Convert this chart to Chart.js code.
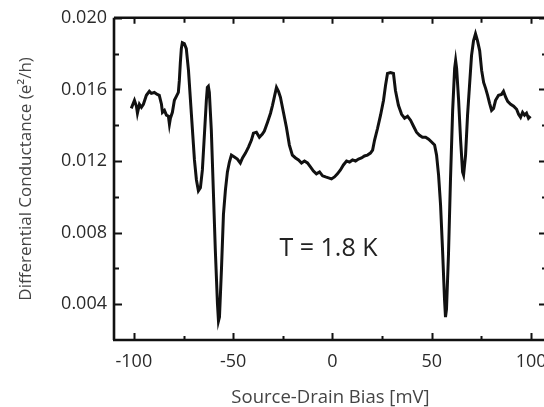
<!DOCTYPE html>
<html>
<head>
<meta charset="utf-8">
<script src="https://cdn.jsdelivr.net/npm/chart.js@4"></script>
<style>
  html, body { margin: 0; padding: 0; background: #fff; overflow: hidden; }
  #wrap { width: 560px; height: 407px; }
</style>
</head>
<body>
<div id="wrap"><canvas id="chart" width="560" height="407"></canvas></div>
<script>
// source-drain bias (mV)
const biasMv = [
  -101.3, -99.7, -98.7, -98.2, -97.2, -96.2, -95.2, -93.7, -92.2, -91.2,
  -89.7, -88.2, -87.2, -86.1, -85.6, -84.6, -83.6, -82.6, -82.1, -81.6,
  -80.6, -79.6, -78.6, -77.6, -77.1, -76.6, -76.1, -75.6, -74.6, -73.6,
  -72.5, -71.5, -70.5, -69.5, -68.5, -67.5, -66.5, -65.5, -64.5, -63.5,
  -63.0, -62.5, -62.0, -61.0, -60.0, -59.0, -57.9, -57.4, -56.9, -55.9,
  -54.9, -53.9, -52.9, -51.9, -50.9, -49.4, -47.9, -46.4, -45.3, -43.8,
  -42.3, -40.8, -39.8, -38.3, -36.8, -35.3, -34.3, -32.7, -31.2, -30.2,
  -29.2, -28.2, -27.2, -26.2, -24.7, -23.2, -21.7, -20.2, -18.6, -17.1,
  -15.6, -14.1, -12.6, -11.1, -9.6, -8.1, -6.5, -5.0, -3.5, -2.0,
  -0.5, 1.0, 2.5, 4.0, 5.5, 7.1, 8.6, 10.1, 11.6, 13.1,
  14.6, 16.1, 17.6, 19.1, 20.2, 21.2, 22.7, 24.2, 25.7, 26.7,
  27.7, 29.2, 30.7, 31.7, 33.2, 34.8, 36.3, 37.8, 39.3, 40.8,
  42.3, 43.8, 45.3, 46.9, 48.4, 49.9, 51.4, 52.4, 53.4, 54.4,
  55.4, 56.4, 56.9, 57.4, 58.4, 59.4, 60.5, 61.5, 62.0, 62.5,
  63.5, 64.5, 65.5, 66.0, 67.0, 68.0, 69.0, 70.0, 71.0, 72.0,
  73.0, 74.1, 75.1, 76.1, 77.1, 78.1, 79.1, 80.1, 81.1, 82.1,
  83.6, 85.1, 86.1, 87.2, 88.2, 89.7, 91.2, 92.7, 93.7, 94.7,
  95.7, 96.7, 97.7, 98.7, 99.7
];

// differential conductance (e^2/h)
const conductance = [
  0.01494, 0.01539, 0.01506, 0.01467, 0.01517, 0.01500, 0.01517, 0.01567, 0.01589, 0.01578,
  0.01583, 0.01572, 0.01567, 0.01517, 0.01472, 0.01483, 0.01456, 0.01450, 0.01406, 0.01439,
  0.01472, 0.01539, 0.01561, 0.01583, 0.01650, 0.01750, 0.01828, 0.01861, 0.01856, 0.01828,
  0.01706, 0.01539, 0.01372, 0.01206, 0.01094, 0.01033, 0.01050, 0.01150, 0.01344, 0.01539,
  0.01611, 0.01617, 0.01583, 0.01372, 0.01039, 0.00706, 0.00400, 0.00306, 0.00328, 0.00594,
  0.00900, 0.01039, 0.01139, 0.01194, 0.01233, 0.01222, 0.01211, 0.01189, 0.01217, 0.01244,
  0.01278, 0.01317, 0.01356, 0.01361, 0.01333, 0.01350, 0.01367, 0.01417, 0.01467, 0.01511,
  0.01561, 0.01611, 0.01589, 0.01556, 0.01472, 0.01389, 0.01289, 0.01233, 0.01217, 0.01206,
  0.01189, 0.01200, 0.01189, 0.01167, 0.01144, 0.01128, 0.01139, 0.01117, 0.01111, 0.01106,
  0.01100, 0.01111, 0.01128, 0.01150, 0.01178, 0.01200, 0.01194, 0.01206, 0.01200, 0.01211,
  0.01217, 0.01228, 0.01233, 0.01244, 0.01261, 0.01317, 0.01383, 0.01456, 0.01539, 0.01622,
  0.01689, 0.01694, 0.01689, 0.01594, 0.01511, 0.01461, 0.01439, 0.01450, 0.01428, 0.01394,
  0.01361, 0.01344, 0.01333, 0.01333, 0.01322, 0.01306, 0.01289, 0.01233, 0.01122, 0.00956,
  0.00706, 0.00428, 0.00328, 0.00372, 0.00678, 0.01094, 0.01483, 0.01717, 0.01761, 0.01717,
  0.01539, 0.01317, 0.01139, 0.01122, 0.01233, 0.01456, 0.01622, 0.01789, 0.01872, 0.01911,
  0.01872, 0.01817, 0.01706, 0.01639, 0.01606, 0.01567, 0.01522, 0.01483, 0.01494, 0.01539,
  0.01567, 0.01572, 0.01589, 0.01556, 0.01533, 0.01517, 0.01506, 0.01489, 0.01461, 0.01444,
  0.01472, 0.01456, 0.01467, 0.01439, 0.01450
];

const xTicks = [-100, -50, 0, 50, 100];
const xMinor = [-75, -25, 25, 75];
const yTicks = [0.004, 0.008, 0.012, 0.016, 0.020];
const yMinor = [0.006, 0.010, 0.014, 0.018];

const tempLabel = 'T = 1.8 K';

const FONT = '"Open Sans", "DejaVu Sans", sans-serif';

// frame + inward ticks, annotation
const framePlugin = {
  id: 'frame',
  afterDatasetsDraw(chart) {
    const { ctx, chartArea: a, scales: { x, y } } = chart;
    ctx.save();
    ctx.strokeStyle = '#111';
    ctx.lineWidth = 2.6;
    ctx.beginPath();
    ctx.moveTo(a.left, a.top); ctx.lineTo(a.right, a.top);
    ctx.moveTo(a.left, a.top); ctx.lineTo(a.left, a.bottom);
    ctx.moveTo(a.left - 1, a.bottom); ctx.lineTo(a.right, a.bottom);
    ctx.moveTo(a.right, a.top); ctx.lineTo(a.right, a.bottom);
    ctx.stroke();

    ctx.lineWidth = 2;
    ctx.beginPath();
    const xt = (vals, bot, top) => vals.forEach(v => {
      const px = Math.round(x.getPixelForValue(v)) + 0.5;
      ctx.moveTo(px, a.bottom); ctx.lineTo(px, a.bottom - bot);
      ctx.moveTo(px, a.top); ctx.lineTo(px, a.top + top);
    });
    xt(xTicks, 7, 6);
    xt(xMinor, 4, 5);
    const yt = (vals, len) => vals.forEach(v => {
      const py = Math.round(y.getPixelForValue(v)) + 0.5;
      ctx.moveTo(a.left, py); ctx.lineTo(a.left + len, py);
      ctx.moveTo(a.right, py); ctx.lineTo(a.right - len, py);
    });
    yt(yTicks, 8);
    yt(yMinor, 5);
    ctx.stroke();

    ctx.fillStyle = '#222';
    ctx.font = '25px ' + FONT;
    ctx.textAlign = 'center';
    ctx.textBaseline = 'middle';
    ctx.fillText(tempLabel, x.getPixelForValue(-2), y.getPixelForValue(0.0071));
    ctx.restore();
  }
};

new Chart(document.getElementById('chart'), {
  type: 'line',
  data: {
    datasets: [{
      data: biasMv.map((b, i) => ({ x: b, y: conductance[i] })),
      borderColor: '#111',
      borderWidth: 3,
      pointRadius: 0,
      tension: 0,
      fill: false
    }]
  },
  options: {
    responsive: false,
    animation: false,
    layout: { padding: { top: 17, right: 13, bottom: 0, left: 0 } },
    plugins: { legend: { display: false }, tooltip: { enabled: false } },
    scales: {
      x: {
        type: 'linear',
        min: -110,
        max: 108,
        grid: { display: false, drawTicks: false },
        border: { display: false },
        afterBuildTicks: s => { s.ticks = xTicks.map(v => ({ value: v })); },
        afterFit: s => { s.height = 67; },
        ticks: {
          padding: 11,
          color: '#2a2a2a',
          font: { family: FONT, size: 18 },
          maxRotation: 0,
          callback: v => String(v)
        },
        title: {
          display: true,
          text: 'Source-Drain Bias [mV]',
          color: '#444',
          font: { family: FONT, size: 18.5 },
          padding: { top: 0, bottom: -2 }
        }
      },
      y: {
        type: 'linear',
        min: 0.002,
        max: 0.020,
        grid: { display: false, drawTicks: false },
        border: { display: false },
        afterBuildTicks: s => { s.ticks = yTicks.map(v => ({ value: v })); },
        afterFit: s => { s.width = 114; },
        ticks: {
          padding: 7,
          color: '#2a2a2a',
          font: { family: FONT, size: 18 },
          callback: v => v.toFixed(3)
        },
        title: {
          display: true,
          text: 'Differential Conductance (e²/h)',
          color: '#444',
          font: { family: FONT, size: 17 },
          padding: { top: 16, bottom: 0 }
        }
      }
    }
  },
  plugins: [framePlugin]
});
</script>
</body>
</html>
